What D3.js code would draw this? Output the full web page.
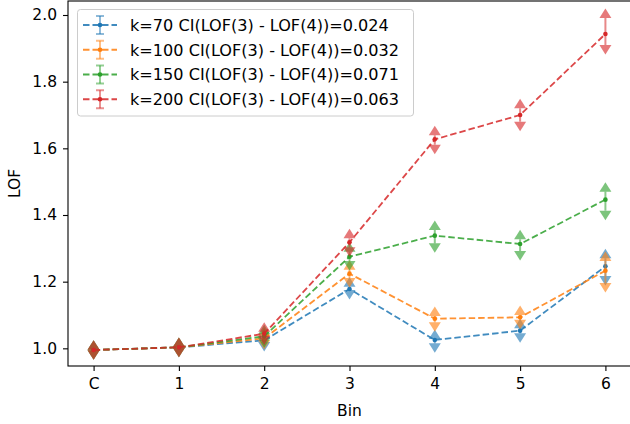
<!DOCTYPE html>
<html><head><meta charset="utf-8">
<script src="https://cdn.jsdelivr.net/npm/d3@7"></script>
<style>
html,body{margin:0;padding:0;background:#fff;}
text{font-family:"DejaVu Sans",sans-serif;}
</style></head>
<body><svg id="c" width="630" height="424"></svg>
<script>
const categories = ["C","1","2","3","4","5","6"];
const kValues = [70, 100, 150, 200];
const ciValues = ["0.024", "0.032", "0.071", "0.063"];
const colors = ["#1f77b4", "#ff7f0e", "#2ca02c", "#d62728"];

const k70   = [0.995, 1.003, 1.024, 1.178, 1.025, 1.053, 1.246];
const k70lo = [0.994, 1.002, 1.019, 1.175, 1.015, 1.045, 1.217];
const k70hi = [0.996, 1.004, 1.029, 1.185, 1.028, 1.060, 1.270];

const k100   = [0.995, 1.003, 1.030, 1.224, 1.089, 1.093, 1.233];
const k100lo = [0.994, 1.002, 1.025, 1.211, 1.078, 1.086, 1.196];
const k100hi = [0.996, 1.004, 1.035, 1.236, 1.097, 1.100, 1.262];

const k150   = [0.995, 1.003, 1.036, 1.275, 1.338, 1.313, 1.446];
const k150lo = [0.994, 1.002, 1.030, 1.262, 1.315, 1.292, 1.413];
const k150hi = [0.996, 1.004, 1.042, 1.290, 1.355, 1.327, 1.470];

const k200   = [0.995, 1.003, 1.044, 1.318, 1.627, 1.700, 1.943];
const k200lo = [0.994, 1.002, 1.038, 1.303, 1.611, 1.680, 1.910];
const k200hi = [0.996, 1.004, 1.050, 1.330, 1.639, 1.720, 1.991];

const yTicks = [1.0, 1.2, 1.4, 1.6, 1.8, 2.0];

const series = [
  {k: kValues[0], ci: ciValues[0], v: k70,  lo: k70lo,  hi: k70hi,  c: colors[0]},
  {k: kValues[1], ci: ciValues[1], v: k100, lo: k100lo, hi: k100hi, c: colors[1]},
  {k: kValues[2], ci: ciValues[2], v: k150, lo: k150lo, hi: k150hi, c: colors[2]},
  {k: kValues[3], ci: ciValues[3], v: k200, lo: k200lo, hi: k200hi, c: colors[3]}
];

const svg = d3.select("#c");
const L = 68, R = 631, T = 1, B = 366;
const x = d3.scalePoint().domain(categories).range([L, R]).padding(0.3);
const y = d3.scaleLinear().domain([0.947, 2.042]).range([B, T]);

const plot = svg.append("g");
const TW = 6, TH = 9.5;

series.forEach(s => {
  const pts = categories.map((c, i) => ({c, v: s.v[i], lo: s.lo[i], hi: s.hi[i]}));
  plot.append("path")
    .attr("d", d3.line().x(d => x(d.c)).y(d => y(d.v))(pts))
    .attr("fill", "none").attr("stroke", s.c).attr("stroke-width", 1.8)
    .attr("stroke-dasharray", "6.5,3").attr("opacity", 0.85);
  const g = plot.append("g");
  g.selectAll("line.eb").data(pts).enter().append("line")
    .attr("x1", d => x(d.c)).attr("x2", d => x(d.c))
    .attr("y1", d => y(d.lo)).attr("y2", d => y(d.hi))
    .attr("stroke", s.c).attr("stroke-width", 2).attr("opacity", 0.55);
  g.selectAll("path.up").data(pts).enter().append("path")
    .attr("d", d => { const cx = x(d.c), cy = y(d.hi);
      return `M${cx-TW},${cy}L${cx+TW},${cy}L${cx},${cy-TH}Z`; })
    .attr("fill", s.c).attr("fill-opacity", 0.62);
  g.selectAll("path.dn").data(pts).enter().append("path")
    .attr("d", d => { const cx = x(d.c), cy = y(d.lo);
      return `M${cx-TW},${cy}L${cx+TW},${cy}L${cx},${cy+TH}Z`; })
    .attr("fill", s.c).attr("fill-opacity", 0.62);
  g.selectAll("circle").data(pts).enter().append("circle")
    .attr("cx", d => x(d.c)).attr("cy", d => y(d.v)).attr("r", 2.3)
    .attr("fill", s.c);
});

// frame
svg.append("rect").attr("x", L).attr("y", T).attr("width", R - L).attr("height", B - T)
  .attr("fill", "none").attr("stroke", "#000").attr("stroke-width", 1.1);

const fs = 15.5;
const xa = svg.append("g").attr("transform", `translate(0,${B})`)
  .call(d3.axisBottom(x).tickSize(5).tickPadding(7));
const ya = svg.append("g").attr("transform", `translate(${L},0)`)
  .call(d3.axisLeft(y).tickValues(yTicks).tickFormat(d3.format(".1f")).tickSize(5).tickPadding(6));
[xa, ya].forEach(a => {
  a.select(".domain").remove();
  a.selectAll(".tick line").attr("stroke", "#000").attr("stroke-width", 1.1);
  a.selectAll(".tick text").attr("fill", "#000").attr("font-size", fs)
    .attr("font-family", "DejaVu Sans");
});

svg.append("text").attr("x", (L + R) / 2).attr("y", 416).attr("text-anchor", "middle")
  .attr("font-size", fs).text("Bin");
svg.append("text").attr("transform", `translate(20,${(T + B) / 2}) rotate(-90)`)
  .attr("text-anchor", "middle").attr("font-size", fs).text("LOF");

// legend
const lg = svg.append("g");
lg.append("rect").attr("x", 77.5).attr("y", 9.5).attr("width", 336).attr("height", 106.5)
  .attr("rx", 3).attr("fill", "#fff").attr("fill-opacity", 0.8)
  .attr("stroke", "#cccccc").attr("stroke-width", 1);
series.forEach((s, i) => {
  const cy = 25 + i * 24.75;
  lg.append("line").attr("x1", 83).attr("x2", 117).attr("y1", cy).attr("y2", cy)
    .attr("stroke", s.c).attr("stroke-width", 1.8).attr("stroke-dasharray", "6.5,3").attr("opacity", 0.85);
  lg.append("line").attr("x1", 100).attr("x2", 100).attr("y1", cy - 9).attr("y2", cy + 9)
    .attr("stroke", s.c).attr("stroke-width", 2).attr("opacity", 0.5);
  [cy - 9, cy + 9].forEach(yy => lg.append("line").attr("x1", 96).attr("x2", 104)
    .attr("y1", yy).attr("y2", yy).attr("stroke", s.c).attr("stroke-width", 2).attr("opacity", 0.5));
  lg.append("circle").attr("cx", 100).attr("cy", cy).attr("r", 2.3).attr("fill", s.c);
  lg.append("text").attr("x", 130).attr("y", cy).attr("dy", "0.36em")
    .attr("font-size", 16.1).attr("fill", "#000")
    .text(`k=${s.k} CI(LOF(3) - LOF(4))=${s.ci}`);
});
</script></body></html>
